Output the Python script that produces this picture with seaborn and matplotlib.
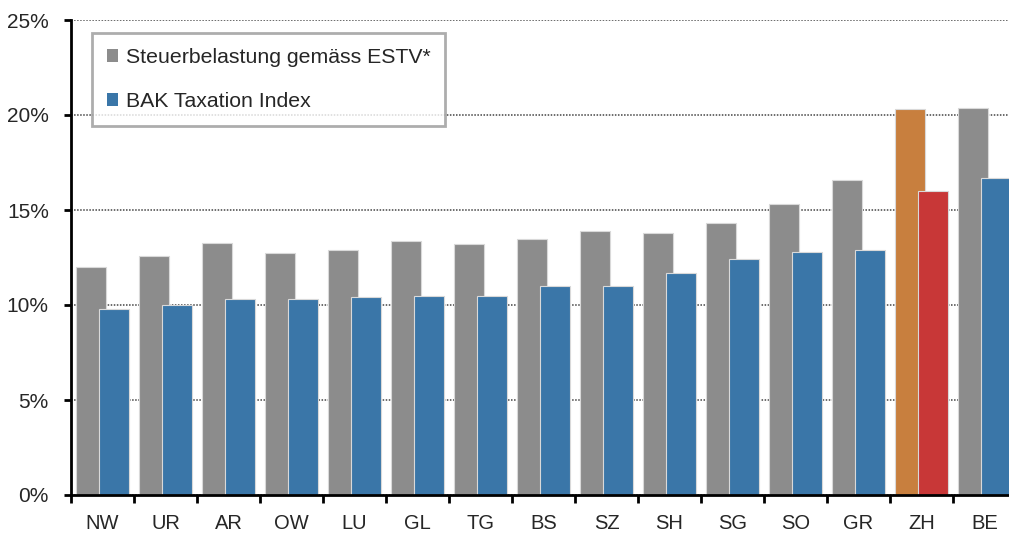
import numpy as np
import pandas as pd
import matplotlib
matplotlib.use("Agg")
import matplotlib.pyplot as plt
import seaborn as sns
from matplotlib.ticker import PercentFormatter

# Daten (Kantone, Werte in %)
kantone = ["NW", "UR", "AR", "OW", "LU", "GL", "TG", "BS", "SZ", "SH", "SG", "SO", "GR", "ZH", "BE"]
estv = [12.0, 12.6, 13.25, 12.75, 12.9, 13.35, 13.2, 13.5, 13.9, 13.8, 14.3, 15.3, 16.6, 20.3, 20.35]
bak = [9.8, 10.0, 10.3, 10.3, 10.4, 10.5, 10.5, 11.0, 11.0, 11.7, 12.4, 12.8, 12.9, 16.0, 16.7]
serien = ["Steuerbelastung gemäss ESTV*", "BAK Taxation Index"]

farben = {serien[0]: "#8c8c8c", serien[1]: "#3a76a8"}
zh_farben = {serien[0]: "#c87f3e", serien[1]: "#c83737"}

df = pd.DataFrame({
    "Kanton": kantone * 2,
    "Wert": estv + bak,
    "Serie": [serien[0]] * len(kantone) + [serien[1]] * len(kantone),
})

sns.set_style("white")
plt.rcParams["font.family"] = ["Liberation Sans", "DejaVu Sans"]

fig = plt.figure(figsize=(10.09, 5.34), dpi=100)
ax = fig.add_axes([71 / 1009, 1 - 495 / 534, 945 / 1009, 475 / 534])

sns.barplot(data=df, x="Kanton", y="Wert", hue="Serie", order=kantone,
            hue_order=serien, palette=farben, width=0.76, ax=ax,
            edgecolor="#d9d9d9", linewidth=0.8, saturation=1, legend=True)

# Balken etwas breiter, so dass sie sich überlappen (wie im Excel-Original)
breite = 0.476
for p in ax.patches:
    mitte = p.get_x() + p.get_width() / 2
    p.set_width(breite)
    p.set_x(mitte - breite / 2)

# Zürich hervorheben
zh = kantone.index("ZH")
for p in ax.patches:
    mitte = p.get_x() + p.get_width() / 2
    if abs(mitte - zh) < 0.5:
        serie = serien[0] if mitte < zh else serien[1]
        p.set_facecolor(zh_farben[serie])

ax.set_ylim(0, 25)
ax.set_xlim(-0.5, len(kantone) - 0.5)
ax.set_yticks(np.arange(0, 26, 5))
ax.yaxis.set_major_formatter(PercentFormatter(decimals=0))
ax.yaxis.grid(True, linestyle=(0, (1, 1)), color="#444444", linewidth=1.1)
ax.set_axisbelow(True)

# x-Achse: Striche an den Kategoriegrenzen, Beschriftung in der Mitte
ax.set_xticks(np.arange(-0.5, len(kantone), 1))
ax.set_xticklabels([])
ax.set_xticks(np.arange(len(kantone)), minor=True)
ax.set_xticklabels(kantone, minor=True)
ax.tick_params(axis="x", which="major", bottom=True, direction="out", length=6, width=2, color="black")
ax.tick_params(axis="x", which="minor", bottom=False, length=0, pad=14, labelsize=14.5)
ax.tick_params(axis="y", left=True, direction="out", length=5, width=2, color="black", pad=11, labelsize=15)

ax.set_xlabel("")
ax.set_ylabel("")
for s in ["top", "right"]:
    ax.spines[s].set_visible(False)
for s in ["left", "bottom"]:
    ax.spines[s].set_linewidth(2)
    ax.spines[s].set_color("black")

leg = ax.legend(loc="upper left", bbox_to_anchor=(0.022, 0.973), borderaxespad=0,
                fontsize=15.3, frameon=True, fancybox=False, handlelength=0.55,
                handleheight=0.55, handletextpad=0.35, labelspacing=1.2,
                borderpad=0.7)
leg.get_frame().set_edgecolor("#999999")
leg.get_frame().set_linewidth(2)
for h in leg.legend_handles:
    h.set_edgecolor("none")

fig.savefig("out.png", dpi=100)
